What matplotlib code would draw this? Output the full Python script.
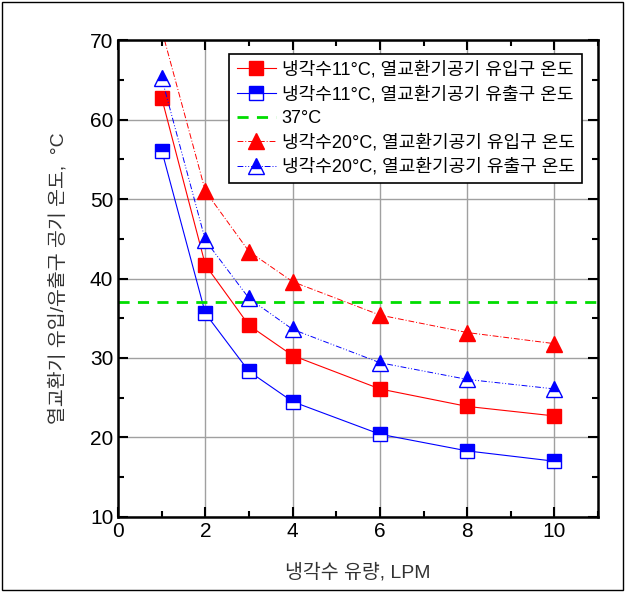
import matplotlib
matplotlib.use('Agg')
import matplotlib.pyplot as plt
from matplotlib.ticker import MultipleLocator
from matplotlib.patches import Rectangle

plt.rcParams['font.family'] = ['Liberation Sans', 'Noto Sans CJK KR']

flow = [1, 2, 3, 4, 6, 8, 10]
in_11 = [62.7, 41.7, 34.1, 30.3, 26.1, 23.9, 22.7]
out_11 = [56.1, 35.6, 28.3, 24.5, 20.4, 18.3, 17.0]
in_20 = [71.3, 51.0, 43.4, 39.6, 35.4, 33.2, 31.8]
out_20 = [65.2, 44.8, 37.5, 33.6, 29.4, 27.3, 26.1]
ref_temp = 37

labels = ['냉각수11°C, 열교환기공기 유입구 온도',
          '냉각수11°C, 열교환기공기 유출구 온도',
          '37°C',
          '냉각수20°C, 열교환기공기 유입구 온도',
          '냉각수20°C, 열교환기공기 유출구 온도']

fig = plt.figure(figsize=(6.25, 5.92), dpi=100)
ax = fig.add_axes([0.189, 0.127, 0.768, 0.805])

ax.plot(flow, in_11, '-', color='red', lw=0.8, marker='s', ms=10,
        mfc='red', mec='red', label=labels[0])
ax.plot(flow, out_11, '-', color='blue', lw=0.8, marker='s', ms=10,
        fillstyle='top', mfc='blue', mfcalt='white', mec='blue', mew=1, label=labels[1])
ax.axhline(ref_temp, color='#00dd00', ls=(0, (4, 3)), lw=2, label=labels[2])
ax.plot(flow, in_20, color='red', lw=0.7, ls=(0, (6, 2, 1, 2)), marker='^', ms=12,
        mfc='red', mec='red', label=labels[3])
ax.plot(flow, out_20, color='blue', lw=0.7, ls=(0, (6, 2, 1, 2, 1, 2)), marker='^', ms=12,
        fillstyle='top', mfc='blue', mfcalt='white', mec='blue', mew=1, label=labels[4])

ax.set_xlim(0, 11)
ax.set_ylim(10, 70)
ax.xaxis.set_major_locator(MultipleLocator(2))
ax.xaxis.set_minor_locator(MultipleLocator(1))
ax.yaxis.set_major_locator(MultipleLocator(10))
ax.yaxis.set_minor_locator(MultipleLocator(5))
ax.tick_params(which='both', direction='in', top=True, right=True, labelsize=15, width=1.5)
ax.tick_params(which='major', length=7)
ax.tick_params(which='minor', length=4)
ax.grid(True, which='major', color='#a0a0a0', lw=1)
for s in ax.spines.values():
    s.set_linewidth(1.8)

ax.set_xlabel('냉각수 유량, LPM', fontsize=14, color='#333333', labelpad=16)
ax.set_ylabel('열교환기 유입/유출구 공기 온도,  °C', fontsize=14, color='#333333', labelpad=16)

leg = ax.legend(loc='upper right', bbox_to_anchor=(0.985, 0.99), fontsize=13,
                frameon=True, fancybox=False, edgecolor='black', framealpha=1,
                handlelength=2.2, borderpad=0.4, labelspacing=0.38, handletextpad=0.3)
leg.get_frame().set_linewidth(1.2)

fig.patches.append(Rectangle((0.003, 0.003), 0.994, 0.994, transform=fig.transFigure,
                             fill=False, edgecolor='black', lw=1))

fig.savefig('out.png', dpi=100)
